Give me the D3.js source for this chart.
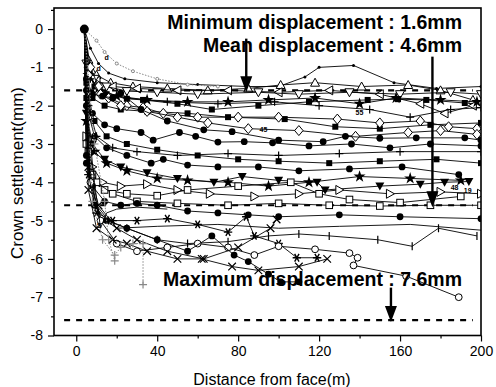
<!DOCTYPE html>
<html>
<head>
<meta charset="utf-8">
<script src="https://cdn.jsdelivr.net/npm/d3@7"></script>
<style>
  body { margin: 0; background: #fff; }
  svg { display: block; font-family: "Liberation Sans", Arial, sans-serif; }
</style>
</head>
<body>
<div id="chart"></div>
<script>
// axis ticks
const xTicks = [0, 40, 80, 120, 160, 200];
const xMinor = [20, 60, 100, 140, 180];
const yTicks = [0, -1, -2, -3, -4, -5, -6, -7, -8];
const yMinor = [0.5, -0.5, -1.5, -2.5, -3.5, -4.5, -5.5, -6.5, -7.5];

// reference levels (mm)
const limitValues = [-1.6, -4.6, -7.6];
const limitLabels = ["Minimum displacement : 1.6mm", "Mean displacement : 4.6mm", "Maximum displacement : 7.6mm"];

// settlement curves: [distance(m), settlement(mm)]
const c01 = [[4,0],[7,-0.5],[11,-0.9],[16,-1.15],[24,-1.3],[40,-1.4],[60,-1.45],[85,-1.5],[100,-1.5],[113,-1.25],[120,-1.0],[137,-0.95],[157,-1.4],[178,-1.55],[200,-1.5]];
const c02 = [[4,0],[6,-0.8],[10,-1.2],[17,-1.4],[28,-1.5],[45,-1.55],[65,-1.6],[85,-1.55],[101,-1.46],[118,-1.4],[141,-1.5],[164,-1.46],[180,-1.6],[196,-1.85]];
const c03 = [[4,0],[6,-1.0],[10,-1.35],[18,-1.5],[30,-1.55],[50,-1.6],[75,-1.6],[100,-1.65],[125,-1.6],[150,-1.7],[170,-1.95],[182,-2.2],[196,-2.0]];
const c04 = [[4,0],[5,-0.9],[9,-1.3],[15,-1.5],[25,-1.62],[40,-1.65],[60,-1.7],[90,-1.65],[110,-1.7],[135,-1.65],[160,-1.7],[185,-1.65],[200,-1.7]];
const c05 = [[4,0],[6,-1.1],[9,-1.5],[15,-1.7],[25,-1.82],[33,-1.85],[50,-1.95],[67,-2.1],[90,-2.0],[115,-1.9],[144,-1.85],[159,-1.83],[173,-1.85],[192,-1.93]];
const c06 = [[4,0],[6,-1.2],[11,-1.55],[20,-1.75],[35,-1.85],[55,-1.9],[75,-1.9],[95,-1.85],[118,-1.8],[140,-1.95],[158,-1.8],[180,-1.85],[198,-1.9]];
const c07 = [[4,0],[7,-1.3],[13,-1.65],[25,-1.8],[45,-1.9],[70,-1.95],[98,-1.9],[120,-2.0],[145,-2.1],[165,-2.3],[185,-2.1],[200,-2.05]];
const c08 = [[4,0],[5,-1.4],[8,-1.8],[14,-2.0],[22,-2.1],[35,-2.15],[55,-2.2],[75,-2.3],[103,-2.35],[128,-2.55],[150,-2.6],[175,-2.5],[200,-2.45]];
const c09 = [[4,0],[7,-1.0],[11,-1.5],[16,-1.8],[25,-2.0],[33,-2.05],[43,-2.2],[60,-2.3],[80,-2.3],[100,-2.3],[129,-2.35],[150,-2.45],[170,-2.4],[184,-2.55],[198,-2.6]];
const c10 = [[4,0],[6,-1.2],[12,-1.7],[22,-2.0],[35,-2.15],[50,-2.3],[65,-2.45],[85,-2.6],[110,-2.65],[138,-2.8],[164,-2.7],[180,-2.65],[198,-2.75]];
const c11 = [[4,0],[5,-1.3],[8,-1.7],[13,-1.75],[18,-1.8],[22,-1.67],[32,-2.1],[45,-2.4],[63,-2.63],[77,-2.68],[100,-2.9],[122,-2.94],[133,-2.8],[150,-2.85],[168,-2.84],[192,-2.84],[200,-2.9]];
const c12 = [[4,0],[5,-1.6],[8,-2.2],[14,-2.5],[20,-2.6],[32,-2.7],[38,-2.9],[51,-2.7],[59,-2.8],[70,-2.95],[83,-2.94],[97,-2.97],[115,-3.05],[136,-3.0],[155,-3.1],[175,-3.0],[200,-3.05]];
const c13 = [[4,0],[5,-1.8],[9,-2.4],[15,-2.8],[25,-3.0],[40,-3.15],[60,-3.3],[80,-3.4],[100,-3.45],[125,-3.5],[150,-3.45],[178,-3.4],[200,-3.5]];
const c14 = [[4,0],[5,-2.0],[9,-2.8],[15,-3.1],[25,-3.3],[37,-3.5],[43,-3.4],[55,-3.55],[70,-3.6],[90,-3.6],[110,-3.7],[135,-3.65],[161,-3.6],[189,-3.8]];
const c15 = [[4,0],[5,-2.2],[8,-3.0],[14,-3.4],[22,-3.6],[35,-3.75],[50,-3.9],[68,-4.0],[82,-3.85],[100,-3.95],[119,-4.0],[123,-4.2],[150,-4.1],[170,-4.05],[182,-4.0],[194,-3.98]];
const c16 = [[4,0],[6,-2.0],[10,-2.8],[18,-3.1],[30,-3.2],[50,-3.3],[75,-3.25],[100,-3.3],[130,-3.25],[160,-3.2],[200,-3.2]];
const c17 = [[4,0],[5,-2.4],[9,-3.2],[15,-3.5],[25,-3.7],[40,-3.9],[55,-3.95],[75,-4.0],[95,-4.1],[115,-4.0],[140,-3.85],[165,-3.9],[190,-3.95]];
const c18 = [[4,0],[5,-2.8],[8,-3.6],[13,-4.0],[22,-4.1],[35,-4.05],[50,-4.2],[66,-4.3],[88,-4.37],[110,-4.3],[130,-4.2],[155,-4.3],[180,-4.25],[200,-4.3]];
const c19 = [[4,0],[5,-3.0],[8,-3.8],[14,-4.2],[25,-4.3],[40,-4.35],[55,-4.2],[80,-4.1],[106,-4.0],[120,-4.3],[135,-4.45],[160,-4.53],[190,-4.37]];
const c20 = [[4,0],[6,-3.2],[10,-4.0],[18,-4.3],[30,-4.5],[50,-4.55],[75,-4.6],[100,-4.55],[125,-4.6],[150,-4.62],[175,-4.6],[200,-4.6]];
const c21 = [[4,0],[5,-3.3],[8,-4.1],[14,-4.5],[22,-4.6],[30,-4.55],[40,-4.6],[55,-4.75],[70,-4.8],[85,-4.85],[100,-4.9],[130,-4.85],[160,-4.9],[200,-4.95]];
const c22 = [[4,0],[6,-3.5],[10,-4.6],[16,-5.0],[25,-5.2],[40,-5.5],[55,-5.6],[75,-5.55],[95,-5.4],[110,-5.35],[125,-5.4],[149,-5.5],[166,-5.67],[179,-5.2],[198,-5.4]];
const c23 = [[4,0],[7,-4.0],[12,-4.9],[20,-5.2],[40,-5.15],[70,-5.1],[100,-5.2],[130,-5.15],[165,-5.1],[200,-5.25]];
const c24 = [[4,0],[6,-3.8],[10,-4.8],[18,-5.0],[30,-5.0],[45,-4.95],[60,-5.1],[75,-5.3],[84,-4.9],[88,-5.4],[100,-5.6],[109,-5.97],[119,-5.97]];
const c25 = [[4,0],[6,-3.6],[11,-4.6],[20,-5.2],[30,-5.5],[45,-5.8],[63,-6.0],[80,-5.7],[96,-5.2],[99,-4.97]];
const c26 = [[4,0],[7,-4.0],[12,-5.0],[20,-5.6],[30,-5.8],[45,-5.7],[60,-5.6],[75,-5.7],[88,-5.9],[100,-5.67],[118,-5.75],[135,-5.85],[139,-5.97],[137,-6.17],[163,-6.45],[189,-7.0]];
const c27 = [[4,0],[5,-3.5],[9,-4.6],[15,-5.0],[25,-5.2],[40,-5.5],[55,-5.8],[67,-5.4],[78,-5.9],[85,-6.07],[95,-6.4],[101,-6.6],[110,-6.6]];
const c28 = [[4,0],[6,-4.2],[10,-5.2],[18,-5.5],[25,-5.6],[35,-5.8],[50,-6.0],[62,-6.0],[77,-6.2],[90,-6.3],[110,-6.2],[124,-6.0]];
const c29 = [[4,0],[8,-4.5],[13,-5.5],[19,-5.9],[22,-5.7],[28,-5.6],[33,-5.6],[33,-6.67]];
const c30 = [[4,0],[9,-3.0],[14,-4.5],[16,-5.5],[19,-6.05]];
const c31 = [[4,0],[6,-2.5],[9,-4.0],[12,-5.2],[15,-4.8],[20,-4.7],[30,-4.65],[45,-4.7]];
const c32 = [[4,0],[10,-0.3],[14,-0.6],[20,-0.9],[28,-1.1],[40,-1.3],[55,-1.45],[70,-1.5]];

const curves = [c01,c02,c03,c04,c05,c06,c07,c08,c09,c10,c11,c12,c13,c14,c15,c16,c17,c18,c19,c20,c21,c22,c23,c24,c25,c26,c27,c28,c29,c30,c31,c32];
const curveSymbols = ["dot","triUpO","triLeftO","triDownO","squareF","star","plus","squareF","diamondO","diamondO","circleF","circleF","squareF","circleF","triDownF","plus","star","triRightO","squareO","squareO","circleF","bar","none","asterisk","cross","circleO","circleF","cross","plus","plus","none","dot"];
const curveDotted = [false,false,false,false,false,false,false,false,false,false,false,false,false,false,false,false,false,false,false,false,false,false,false,false,false,false,false,false,true,true,false,true];

// small point labels
const tinyX = [10.3, 185, 191.5, 138, 90.6, 14, 10];
const tinyY = [-5.2, -4.2, -4.27, -2.24, -2.68, -0.8, -1.1];
const tinyText = ["5", "48", "19", "55", "45", "d", "d"];

const width = 496, height = 387;
const svg = d3.select("#chart").append("svg").attr("width", width).attr("height", height);

const x = d3.scaleLinear().domain([-11, 200]).range([54, 481]);
const y = d3.scaleLinear().domain([-8, 0.55]).range([335.5, 8]);

svg.append("clipPath").attr("id", "plot")
  .append("rect").attr("x", 54).attr("y", 8).attr("width", 427).attr("height", 327.5);

const plot = svg.append("g").attr("clip-path", "url(#plot)");

// dashed reference lines
plot.selectAll("line.limit").data(limitValues).join("line")
  .attr("class", "limit")
  .attr("x1", x(-6)).attr("x2", x(196))
  .attr("y1", d => y(d)).attr("y2", d => y(d))
  .attr("stroke", "#000").attr("stroke-width", 2.2)
  .attr("stroke-dasharray", "6,6");

const line = d3.line().x(d => x(d[0])).y(d => y(d[1]));

const markers = {
  circleF: g => g.append("circle").attr("r", 3.4).attr("fill", "#000"),
  circleO: g => g.append("circle").attr("r", 3.4).attr("fill", "#fff").attr("stroke", "#000"),
  squareF: g => g.append("rect").attr("x", -3).attr("y", -3).attr("width", 6).attr("height", 6).attr("fill", "#000"),
  squareO: g => g.append("rect").attr("x", -3.3).attr("y", -3.3).attr("width", 6.6).attr("height", 6.6).attr("fill", "#fff").attr("stroke", "#000"),
  diamondO: g => g.append("path").attr("d", "M0,-5L4.2,0L0,5L-4.2,0Z").attr("fill", "#fff").attr("stroke", "#000"),
  triUpO: g => g.append("path").attr("d", "M0,-4.5L4.5,3.5L-4.5,3.5Z").attr("fill", "#fff").attr("stroke", "#000"),
  triDownO: g => g.append("path").attr("d", "M0,4.5L4.5,-3.5L-4.5,-3.5Z").attr("fill", "#fff").attr("stroke", "#000"),
  triLeftO: g => g.append("path").attr("d", "M-4.5,0L3.5,-4.5L3.5,4.5Z").attr("fill", "#fff").attr("stroke", "#000"),
  triRightO: g => g.append("path").attr("d", "M4.5,0L-3.5,-4.5L-3.5,4.5Z").attr("fill", "#fff").attr("stroke", "#000"),
  triDownF: g => g.append("path").attr("d", "M0,4.5L4.5,-3.5L-4.5,-3.5Z").attr("fill", "#000"),
  star: g => g.append("path").attr("d", d3.symbol(d3.symbolStar, 45)()).attr("fill", "#000"),
  cross: g => g.append("path").attr("d", "M-3.8,-3.8L3.8,3.8M-3.8,3.8L3.8,-3.8").attr("stroke", "#000").attr("stroke-width", 1.2),
  plus: g => g.append("path").attr("d", "M-4,0H4M0,-4V4").attr("stroke", "#000").attr("stroke-width", 1.2),
  asterisk: g => g.append("path").attr("d", "M-4.2,0H4.2M-2.2,-3.8L2.2,3.8M-2.2,3.8L2.2,-3.8").attr("stroke", "#000").attr("stroke-width", 1.4),
  bar: g => g.append("path").attr("d", "M0,-4V4").attr("stroke", "#000").attr("stroke-width", 1.2),
  dot: g => g.append("circle").attr("r", 1.5).attr("fill", "#000"),
  none: g => g
};

curves.forEach((pts, i) => {
  const dotted = curveDotted[i];
  const g = plot.append("g");
  g.append("path").datum(pts)
    .attr("d", line)
    .attr("fill", "none")
    .attr("stroke", dotted ? "#888" : "#000")
    .attr("stroke-width", dotted ? 1 : 0.9)
    .attr("stroke-dasharray", dotted ? "1.5,1.5" : null);
  g.selectAll("g").data(pts.slice(1)).join("g")
    .attr("transform", d => `translate(${x(d[0])},${y(d[1])})`)
    .each(function () {
      const m = markers[curveSymbols[i]](d3.select(this));
      if (dotted) m.attr("stroke", "#888").attr("fill", "#fff");
    });
});

// origin point
plot.append("circle").attr("cx", x(4)).attr("cy", y(0)).attr("r", 4.5).attr("fill", "#000");

plot.selectAll("text.tiny").data(tinyText).join("text")
  .attr("class", "tiny")
  .attr("x", (d, i) => x(tinyX[i])).attr("y", (d, i) => y(tinyY[i]))
  .attr("font-size", 7).attr("font-weight", "bold").text(d => d);

// axes
svg.append("g").attr("transform", "translate(0,335.5)")
  .call(d3.axisBottom(x).tickValues(xTicks).tickSize(6).tickPadding(5).tickFormat(d => String(d)))
  .call(g => g.select(".domain").remove())
  .call(g => g.selectAll("text").attr("font-size", 14).attr("font-family", "Liberation Sans, Arial, sans-serif").attr("fill", "#000"));
svg.append("g").attr("transform", "translate(0,335.5)")
  .call(d3.axisBottom(x).tickValues(xMinor).tickSize(3).tickFormat(""))
  .call(g => g.select(".domain").remove());

svg.append("g").attr("transform", "translate(54,0)")
  .call(d3.axisLeft(y).tickValues(yTicks).tickSize(6).tickPadding(5).tickFormat(d => String(d)))
  .call(g => g.select(".domain").remove())
  .call(g => g.selectAll("text").attr("font-size", 14).attr("font-family", "Liberation Sans, Arial, sans-serif").attr("fill", "#000"));
svg.append("g").attr("transform", "translate(54,0)")
  .call(d3.axisLeft(y).tickValues(yMinor).tickSize(3).tickFormat(""))
  .call(g => g.select(".domain").remove());

svg.selectAll(".tick line").attr("stroke-width", 1.2);

// frame
svg.append("rect").attr("x", 54).attr("y", 8).attr("width", 427).attr("height", 327.5)
  .attr("fill", "none").attr("stroke", "#000").attr("stroke-width", 1.6);

// annotations
const labelY = [29, 52, 286];
svg.selectAll("text.limitLabel").data(limitLabels).join("text")
  .attr("class", "limitLabel")
  .attr("x", 462).attr("y", (d, i) => labelY[i])
  .attr("text-anchor", "end")
  .attr("font-size", 19.5).attr("font-weight", "bold")
  .text(d => d);

const arrowX = [84, 176, 155.5];
const arrowTop = [-0.25, -0.72, -6.75];
function arrow(xv, top, tip) {
  const px = x(xv), pt = y(top), pb = y(tip);
  svg.append("line").attr("x1", px).attr("x2", px).attr("y1", pt).attr("y2", pb - 14)
    .attr("stroke", "#000").attr("stroke-width", 2.4);
  svg.append("path").attr("d", `M${px - 6},${pb - 16}L${px + 6},${pb - 16}L${px},${pb}Z`).attr("fill", "#000");
}
limitValues.forEach((v, i) => arrow(arrowX[i], arrowTop[i], v - 0.05));

// axis titles
svg.append("text").attr("x", 272).attr("y", 385).attr("text-anchor", "middle")
  .attr("font-size", 16).text("Distance from face(m)");
svg.append("text").attr("transform", "translate(23,173) rotate(-90)").attr("text-anchor", "middle")
  .attr("font-size", 17).text("Crown settlement(mm)");
</script>
</body>
</html>
